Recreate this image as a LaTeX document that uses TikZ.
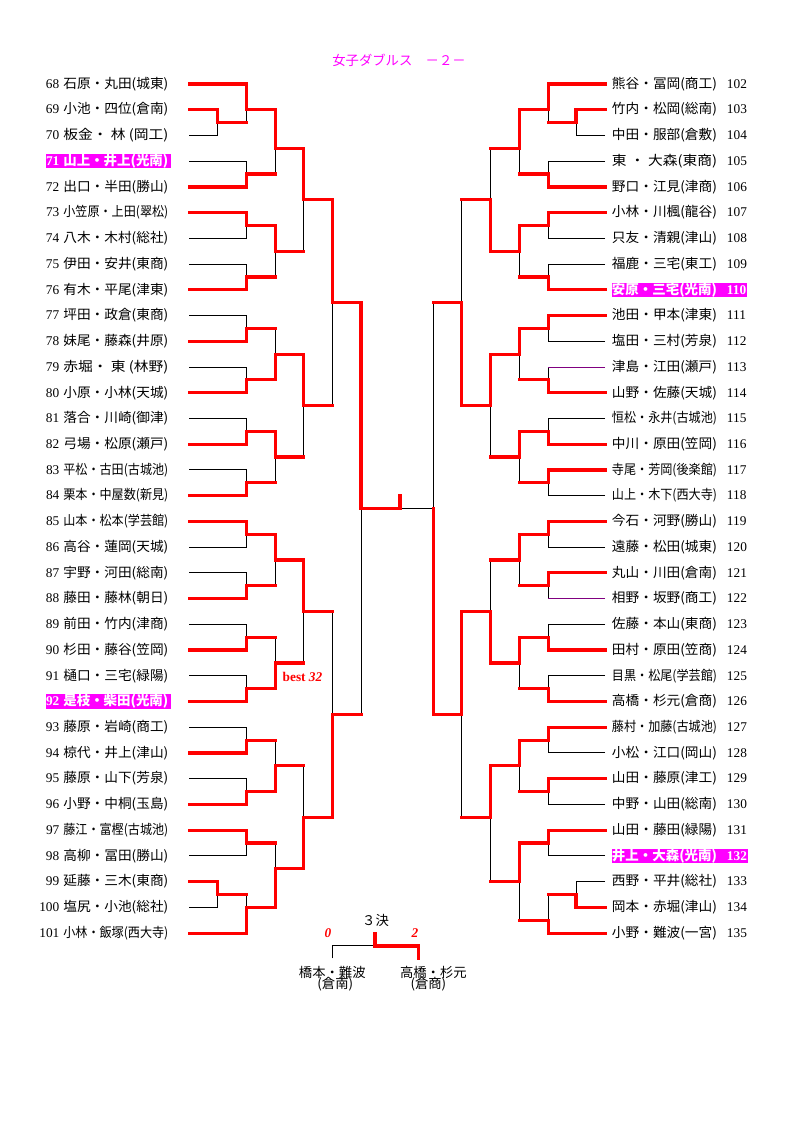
\documentclass[tikz,border=0pt]{standalone}
\usepackage{fontspec}
\setmainfont{Liberation Serif}
\newfontfamily\jpfont{Noto Sans CJK JP}
\usepackage{graphicx}
\usepackage{xcolor}
\definecolor{seed}{HTML}{FF00FF}
\definecolor{purp}{HTML}{800080}
\newlength{\pxu}
\setlength{\pxu}{0.75pt}
\setlength{\fboxsep}{0pt}
\newcommand{\Nm}[1]{\resizebox{105\pxu}{\height}{#1}}
\newcommand{\Lent}[2]{\rule[-3\pxu]{0pt}{14.5\pxu}{\rmfamily #1}\kern4\pxu\Nm{#2}\kern20.7\pxu}
\newcommand{\Lseed}[2]{\colorbox{seed}{\color{white}\bfseries\rule[-3\pxu]{0pt}{14.5\pxu}{\rmfamily #1}\kern4\pxu\Nm{#2}\kern2.7\pxu}\kern18\pxu}
\newcommand{\Rent}[2]{\kern6.7\pxu\rule[-3\pxu]{0pt}{14.5\pxu}\Nm{#2}\kern10\pxu{\rmfamily #1}}
\newcommand{\Rseed}[2]{\kern6.7\pxu\colorbox{seed}{\color{white}\bfseries\rule[-3\pxu]{0pt}{14.5\pxu}\Nm{#2}\kern10\pxu{\rmfamily #1}\kern1\pxu}}
\tikzset{
  win/.style={draw=red,line width=2.4pt,line cap=rect},
  lose/.style={draw=black,line width=0.75pt},
  hv/.style={to path={-| (\tikztotarget)}},
  lteam/.style={anchor=east,inner sep=0pt},
  rteam/.style={anchor=west,inner sep=0pt},
  score/.style={text=red,font=\rmfamily\bfseries\itshape}
}

\begin{document}
\begin{tikzpicture}[x=0.75pt,y=-9.64875pt,font=\jpfont\fontsize{10}{12}\selectfont]
\useasboundingbox (0,-6.5294) rectangle (794,80.7616);
% \draw[help lines] (0,0) grid (794,66);
\node[text=seed] (title) at (399,-1.87) {女子ダブルス　－２－};
%
\node[lteam] (L68) at (189.3,0) {\Lent{68}{石原・丸田(城東)}};
\node[lteam] (L69) at (189.3,2) {\Lent{69}{小池・四位(倉南)}};
\node[lteam] (L70) at (189.3,4) {\Lent{70}{板金・ 林 (岡工)}};
\node[lteam] (L71) at (189.3,6) {\Lseed{71}{山上・井上(光南)}};
\node[lteam] (L72) at (189.3,8) {\Lent{72}{出口・半田(勝山)}};
\node[lteam] (L73) at (189.3,10) {\Lent{73}{小笠原・上田(翠松)}};
\node[lteam] (L74) at (189.3,12) {\Lent{74}{八木・木村(総社)}};
\node[lteam] (L75) at (189.3,14) {\Lent{75}{伊田・安井(東商)}};
\node[lteam] (L76) at (189.3,16) {\Lent{76}{有木・平尾(津東)}};
\node[lteam] (L77) at (189.3,18) {\Lent{77}{坪田・政倉(東商)}};
\node[lteam] (L78) at (189.3,20) {\Lent{78}{妹尾・藤森(井原)}};
\node[lteam] (L79) at (189.3,22) {\Lent{79}{赤堀・ 東 (林野)}};
\node[lteam] (L80) at (189.3,24) {\Lent{80}{小原・小林(天城)}};
\node[lteam] (L81) at (189.3,26) {\Lent{81}{落合・川崎(御津)}};
\node[lteam] (L82) at (189.3,28) {\Lent{82}{弓場・松原(瀬戸)}};
\node[lteam] (L83) at (189.3,30) {\Lent{83}{平松・古田(古城池)}};
\node[lteam] (L84) at (189.3,32) {\Lent{84}{栗本・中屋数(新見)}};
\node[lteam] (L85) at (189.3,34) {\Lent{85}{山本・松本(学芸館)}};
\node[lteam] (L86) at (189.3,36) {\Lent{86}{高谷・蓮岡(天城)}};
\node[lteam] (L87) at (189.3,38) {\Lent{87}{宇野・河田(総南)}};
\node[lteam] (L88) at (189.3,40) {\Lent{88}{藤田・藤林(朝日)}};
\node[lteam] (L89) at (189.3,42) {\Lent{89}{前田・竹内(津商)}};
\node[lteam] (L90) at (189.3,44) {\Lent{90}{杉田・藤谷(笠岡)}};
\node[lteam] (L91) at (189.3,46) {\Lent{91}{樋口・三宅(緑陽)}};
\node[lteam] (L92) at (189.3,48) {\Lseed{92}{是枝・柴田(光南)}};
\node[lteam] (L93) at (189.3,50) {\Lent{93}{藤原・岩崎(商工)}};
\node[lteam] (L94) at (189.3,52) {\Lent{94}{椋代・井上(津山)}};
\node[lteam] (L95) at (189.3,54) {\Lent{95}{藤原・山下(芳泉)}};
\node[lteam] (L96) at (189.3,56) {\Lent{96}{小野・中桐(玉島)}};
\node[lteam] (L97) at (189.3,58) {\Lent{97}{藤江・富樫(古城池)}};
\node[lteam] (L98) at (189.3,60) {\Lent{98}{高柳・冨田(勝山)}};
\node[lteam] (L99) at (189.3,62) {\Lent{99}{延藤・三木(東商)}};
\node[lteam] (L100) at (189.3,64) {\Lent{100}{塩尻・小池(総社)}};
\node[lteam] (L101) at (189.3,66) {\Lent{101}{小林・飯塚(西大寺)}};
%
\node[rteam] (R102) at (605,0) {\Rent{102}{熊谷・冨岡(商工)}};
\node[rteam] (R103) at (605,2) {\Rent{103}{竹内・松岡(総南)}};
\node[rteam] (R104) at (605,4) {\Rent{104}{中田・服部(倉敷)}};
\node[rteam] (R105) at (605,6) {\Rent{105}{東 ・ 大森(東商)}};
\node[rteam] (R106) at (605,8) {\Rent{106}{野口・江見(津商)}};
\node[rteam] (R107) at (605,10) {\Rent{107}{小林・川楓(龍谷)}};
\node[rteam] (R108) at (605,12) {\Rent{108}{只友・清親(津山)}};
\node[rteam] (R109) at (605,14) {\Rent{109}{福鹿・三宅(東工)}};
\node[rteam] (R110) at (605,16) {\Rseed{110}{安原・三宅(光南)}};
\node[rteam] (R111) at (605,18) {\Rent{111}{池田・甲本(津東)}};
\node[rteam] (R112) at (605,20) {\Rent{112}{塩田・三村(芳泉)}};
\node[rteam] (R113) at (605,22) {\Rent{113}{津島・江田(瀬戸)}};
\node[rteam] (R114) at (605,24) {\Rent{114}{山野・佐藤(天城)}};
\node[rteam] (R115) at (605,26) {\Rent{115}{恒松・永井(古城池)}};
\node[rteam] (R116) at (605,28) {\Rent{116}{中川・原田(笠岡)}};
\node[rteam] (R117) at (605,30) {\Rent{117}{寺尾・芳岡(後楽館)}};
\node[rteam] (R118) at (605,32) {\Rent{118}{山上・木下(西大寺)}};
\node[rteam] (R119) at (605,34) {\Rent{119}{今石・河野(勝山)}};
\node[rteam] (R120) at (605,36) {\Rent{120}{遠藤・松田(城東)}};
\node[rteam] (R121) at (605,38) {\Rent{121}{丸山・川田(倉南)}};
\node[rteam] (R122) at (605,40) {\Rent{122}{相野・坂野(商工)}};
\node[rteam] (R123) at (605,42) {\Rent{123}{佐藤・本山(東商)}};
\node[rteam] (R124) at (605,44) {\Rent{124}{田村・原田(笠商)}};
\node[rteam] (R125) at (605,46) {\Rent{125}{目黒・松尾(学芸館)}};
\node[rteam] (R126) at (605,48) {\Rent{126}{高橋・杉元(倉商)}};
\node[rteam] (R127) at (605,50) {\Rent{127}{藤村・加藤(古城池)}};
\node[rteam] (R128) at (605,52) {\Rent{128}{小松・江口(岡山)}};
\node[rteam] (R129) at (605,54) {\Rent{129}{山田・藤原(津工)}};
\node[rteam] (R130) at (605,56) {\Rent{130}{中野・山田(総南)}};
\node[rteam] (R131) at (605,58) {\Rent{131}{山田・藤田(緑陽)}};
\node[rteam] (R132) at (605,60) {\Rseed{132}{井上・大森(光南)}};
\node[rteam] (R133) at (605,62) {\Rent{133}{西野・平井(総社)}};
\node[rteam] (R134) at (605,64) {\Rent{134}{岡本・赤堀(津山)}};
\node[rteam] (R135) at (605,66) {\Rent{135}{小野・難波(一宮)}};
%
\coordinate (lp1) at (217.3,3); \coordinate (lp2) at (217.3,63);
\coordinate (la1) at (246.7,2); \coordinate (la2) at (246.7,7); \coordinate (la3) at (246.7,11); \coordinate (la4) at (246.7,15);
\coordinate (la5) at (246.7,19); \coordinate (la6) at (246.7,23); \coordinate (la7) at (246.7,27); \coordinate (la8) at (246.7,31);
\coordinate (la9) at (246.7,35); \coordinate (la10) at (246.7,39); \coordinate (la11) at (246.7,43); \coordinate (la12) at (246.7,47);
\coordinate (la13) at (246.7,51); \coordinate (la14) at (246.7,55); \coordinate (la15) at (246.7,59); \coordinate (la16) at (246.7,64);
\coordinate (lb1) at (275.7,5); \coordinate (lb2) at (275.7,13); \coordinate (lb3) at (275.7,21); \coordinate (lb4) at (275.7,29);
\coordinate (lb5) at (275.7,37); \coordinate (lb6) at (275.7,45); \coordinate (lb7) at (275.7,53); \coordinate (lb8) at (275.7,61);
\coordinate (lc1) at (303.3,9); \coordinate (lc2) at (303.3,25); \coordinate (lc3) at (303.3,41); \coordinate (lc4) at (303.3,57);
\coordinate (ld1) at (332.7,17); \coordinate (ld2) at (332.7,49);
\coordinate (le1) at (361,33);
\coordinate (fin) at (400,33);
%
\coordinate (rp1) at (576,3); \coordinate (rp2) at (576,63);
\coordinate (ra1) at (548.3,2); \coordinate (ra2) at (548.3,7); \coordinate (ra3) at (548.3,11); \coordinate (ra4) at (548.3,15);
\coordinate (ra5) at (548.3,19); \coordinate (ra6) at (548.3,23); \coordinate (ra7) at (548.3,27); \coordinate (ra8) at (548.3,31);
\coordinate (ra9) at (548.3,35); \coordinate (ra10) at (548.3,39); \coordinate (ra11) at (548.3,43); \coordinate (ra12) at (548.3,47);
\coordinate (ra13) at (548.3,51); \coordinate (ra14) at (548.3,55); \coordinate (ra15) at (548.3,59); \coordinate (ra16) at (548.3,65);
\coordinate (rb1) at (519.3,5); \coordinate (rb2) at (519.3,13); \coordinate (rb3) at (519.3,21); \coordinate (rb4) at (519.3,29);
\coordinate (rb5) at (519.3,37); \coordinate (rb6) at (519.3,45); \coordinate (rb7) at (519.3,53); \coordinate (rb8) at (519.3,62);
\coordinate (rc1) at (490.7,9); \coordinate (rc2) at (490.7,25); \coordinate (rc3) at (490.7,41); \coordinate (rc4) at (490.7,57);
\coordinate (rd1) at (461.7,17); \coordinate (rd2) at (461.7,49);
\coordinate (re1) at (433.3,33);
%
% beaten (black)
\path[lose] (L70) edge[hv] (lp1) (lp1) edge[hv] (la1) (L71) edge[hv] (la2) (la2) edge[hv] (lb1);
\path[lose] (L74) edge[hv] (la3) (L75) edge[hv] (la4) (la4) edge[hv] (lb2) (lb2) edge[hv] (lc1);
\path[lose] (L77) edge[hv] (la5) (L79) edge[hv] (la6) (la5) edge[hv] (lb3);
\path[lose] (L81) edge[hv] (la7) (L83) edge[hv] (la8) (la8) edge[hv] (lb4) (lb4) edge[hv] (lc2) (lc2) edge[hv] (ld1);
\path[lose] (L86) edge[hv] (la9) (L87) edge[hv] (la10) (la10) edge[hv] (lb5);
\path[lose] (L89) edge[hv] (la11) (L91) edge[hv] (la12) (la11) edge[hv] (lb6) (lb6) edge[hv] (lc3);
\path[lose] (L93) edge[hv] (la13) (L95) edge[hv] (la14) (la13) edge[hv] (lb7);
\path[lose] (L98) edge[hv] (la15) (L100) edge[hv] (lp2) (lp2) edge[hv] (la16) (la15) edge[hv] (lb8) (lb7) edge[hv] (lc4);
\path[lose] (lc3) edge[hv] (ld2) (ld2) edge[hv] (le1);
%
\path[lose] (R104) edge[hv] (rp1) (rp1) edge[hv] (ra1) (R105) edge[hv] (ra2) (ra2) edge[hv] (rb1) (rb1) edge[hv] (rc1);
\path[lose] (R108) edge[hv] (ra3) (R109) edge[hv] (ra4) (ra4) edge[hv] (rb2) (rc1) edge[hv] (rd1);
\path[lose] (R112) edge[hv] (ra5) (ra6) edge[hv] (rb3) (R113 -| ra6) edge (ra6);
\path[lose,draw=purp] (R113) edge (R113 -| ra6);
\path[lose] (R115) edge[hv] (ra7) (R118) edge[hv] (ra8) (ra8) edge[hv] (rb4) (rb4) edge[hv] (rc2) (rd1) edge[hv] (re1);
\path[lose] (R120) edge[hv] (ra9) (ra10) edge[hv] (rb5) (rb5) edge[hv] (rc3) (R122 -| ra10) edge (ra10);
\path[lose,draw=purp] (R122) edge (R122 -| ra10);
\path[lose] (R123) edge[hv] (ra11) (R125) edge[hv] (ra12) (ra12) edge[hv] (rb6);
\path[lose] (R128) edge[hv] (ra13) (R130) edge[hv] (ra14) (ra14) edge[hv] (rb7);
\path[lose] (R132) edge[hv] (ra15) (R133) edge[hv] (rp2) (rp2) edge[hv] (ra16) (ra16) edge[hv] (rb8) (rb8) edge[hv] (rc4) (rc4) edge[hv] (rd2);
\path[lose] (re1) edge (fin);
%
% winners (red)
\path[win] (L69) edge[hv] (lp1) (L68) edge[hv] (la1) (L72) edge[hv] (la2) (la1) edge[hv] (lb1);
\path[win] (L73) edge[hv] (la3) (L76) edge[hv] (la4) (la3) edge[hv] (lb2) (lb1) edge[hv] (lc1);
\path[win] (L78) edge[hv] (la5) (L80) edge[hv] (la6) (la6) edge[hv] (lb3);
\path[win] (L82) edge[hv] (la7) (L84) edge[hv] (la8) (la7) edge[hv] (lb4) (lb3) edge[hv] (lc2) (lc1) edge[hv] (ld1);
\path[win] (L85) edge[hv] (la9) (L88) edge[hv] (la10) (la9) edge[hv] (lb5);
\path[win] (L90) edge[hv] (la11) (L92) edge[hv] (la12) (la12) edge[hv] (lb6) (lb5) edge[hv] (lc3);
\path[win] (L94) edge[hv] (la13) (L96) edge[hv] (la14) (la14) edge[hv] (lb7);
\path[win] (L97) edge[hv] (la15) (L99) edge[hv] (lp2) (L101) edge[hv] (la16) (la16) edge[hv] (lb8) (lb8) edge[hv] (lc4);
\path[win] (lc4) edge[hv] (ld2) (ld1) edge[hv] (le1);
\path[win] (lp1) edge (lp1 -| la1) (la2) edge (la2 -| lb1) (la4) edge (la4 -| lb2) (lb2) edge (lb2 -| lc1);
\path[win] (la5) edge (la5 -| lb3) (la8) edge (la8 -| lb4) (lb4) edge (lb4 -| lc2) (lc2) edge (lc2 -| ld1);
\path[win] (la10) edge (la10 -| lb5) (la11) edge (la11 -| lb6) (lb6) edge (lb6 -| lc3) (la13) edge (la13 -| lb7);
\path[win] (lp2) edge (lp2 -| la16) (la15) edge (la15 -| lb8) (lb7) edge (lb7 -| lc4) (lc3) edge (lc3 -| ld2) (ld2) edge (ld2 -| le1);
%
\path[win] (R103) edge[hv] (rp1) (R102) edge[hv] (ra1) (R106) edge[hv] (ra2) (ra1) edge[hv] (rb1);
\path[win] (R107) edge[hv] (ra3) (R110) edge[hv] (ra4) (ra3) edge[hv] (rb2) (rb2) edge[hv] (rc1);
\path[win] (R111) edge[hv] (ra5) (R114) edge[hv] (ra6) (ra5) edge[hv] (rb3);
\path[win] (R116) edge[hv] (ra7) (R117) edge[hv] (ra8) (ra7) edge[hv] (rb4) (rb3) edge[hv] (rc2) (rc2) edge[hv] (rd1);
\path[win] (R119) edge[hv] (ra9) (R121) edge[hv] (ra10) (ra9) edge[hv] (rb5);
\path[win] (R124) edge[hv] (ra11) (R126) edge[hv] (ra12) (ra11) edge[hv] (rb6) (rb6) edge[hv] (rc3);
\path[win] (R127) edge[hv] (ra13) (R129) edge[hv] (ra14) (ra13) edge[hv] (rb7);
\path[win] (R131) edge[hv] (ra15) (R134) edge[hv] (rp2) (R135) edge[hv] (ra16) (ra15) edge[hv] (rb8) (rb7) edge[hv] (rc4);
\path[win] (rc3) edge[hv] (rd2) (rd2) edge[hv] (re1);
\path[win] (rp1) edge (rp1 -| ra1) (ra2) edge (ra2 -| rb1) (ra4) edge (ra4 -| rb2) (rb1) edge (rb1 -| rc1);
\path[win] (ra6) edge (ra6 -| rb3) (ra8) edge (ra8 -| rb4) (rb4) edge (rb4 -| rc2) (rc1) edge (rc1 -| rd1);
\path[win] (ra10) edge (ra10 -| rb5) (ra12) edge (ra12 -| rb6) (rb5) edge (rb5 -| rc3) (ra14) edge (ra14 -| rb7);
\path[win] (rp2) edge (rp2 -| ra16) (ra16) edge (ra16 -| rb8) (rb8) edge (rb8 -| rc4) (rc4) edge (rc4 -| rd2) (rd1) edge (rd1 -| re1);
\draw[win] (le1) -- (fin) -- ++(0,-0.98);
%
\node[text=red,font=\rmfamily\bfseries] (best) at (302.5,46.07) {best \textit{32}};
%
% 3rd place
\node (third) at (375.5,64.98) {３決};
\coordinate (t3) at (375,67);
\node[anchor=north,align=center,inner xsep=0pt,inner ysep=5.5pt] (tA) at (332.3,67.96) {橋本・難波\\[-3.4pt]\kern6\pxu(倉南)};
\node[anchor=north,align=center,inner xsep=0pt,inner ysep=5.5pt] (tB) at (433.4,67.96) {高橋・杉元\\[-3.4pt](倉商)\kern10\pxu};
\node[score] (s0) at (328,66) {0};
\node[score] (s2) at (415,66) {2};
\draw[lose] (tA.north) |- (t3);
\draw[win] ([xshift=-11pt]tB.north) |- (t3) -- ++(0,-0.98);
\end{tikzpicture}
\end{document}
